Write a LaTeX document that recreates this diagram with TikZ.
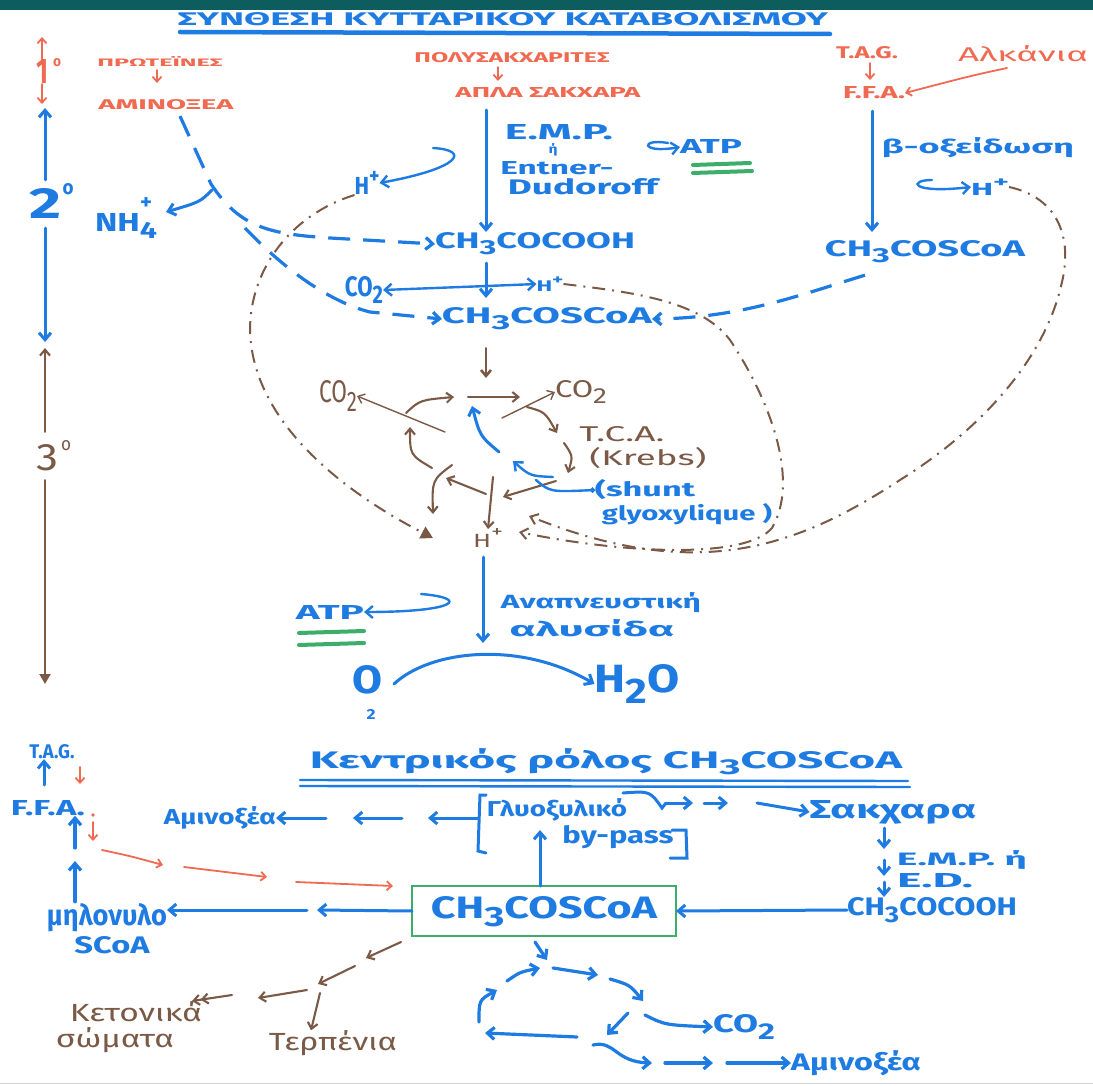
\documentclass[tikz,border=0pt]{standalone}
\usepackage{fontspec}
\setmainfont{Fira Sans}
\usepackage{graphicx}
\usetikzlibrary{arrows.meta}
\definecolor{bl}{HTML}{1E7BE2}
\definecolor{rd}{HTML}{F06A52}
\definecolor{br}{HTML}{7A5A46}
\definecolor{gr}{HTML}{3DAE6A}
\definecolor{teal}{HTML}{0D5C5E}
\newcommand{\fx}[3]{\resizebox{#1pt}{#2pt}{#3}}
\newcommand{\Sb}[1]{\raisebox{-0.5ex}{\small #1}}
\newcommand{\Sp}[1]{\raisebox{0.9ex}{\small #1}}
\begin{document}
\begin{tikzpicture}[x=1pt,y=-1pt,
  t/.style={inner sep=0pt,outer sep=0pt},
  tb/.style={t,text=bl,font=\bfseries},
  tr/.style={t,text=rd,font=\bfseries},
  tn/.style={t,text=br},
  bL/.style={draw=bl,line width=3pt,line cap=round},
  bA/.style={bL,-{Straight Barb[length=7pt,width=12pt]}},
  bd/.style={draw=bl,line width=3.2pt,dash pattern=on 22pt off 13pt,-{Straight Barb[length=7pt,width=12pt]}},
  rA/.style={draw=rd,line width=1.8pt,line cap=round,-{Straight Barb[length=5pt,width=9pt]}},
  nL/.style={draw=br,line width=2.1pt,line cap=round},
  nA/.style={nL,-{Straight Barb[length=6pt,width=10pt]}},
  dd/.style={draw=br,line width=2pt,dash pattern=on 13pt off 7pt on 2pt off 7pt,-{Straight Barb[length=7pt,width=11pt]}},
  gL/.style={draw=gr,line width=4pt,line cap=round}]
\useasboundingbox (0,0) rectangle (1093,1086);
\fill[white] (0,0) rectangle (1093,1086);
\fill[teal] (0,0) rectangle (1093,10);
\draw[gray!35,line width=1pt] (0,1083) -- (1093,1083);

% ---------- title
\node[tb] (title) at (503,19) {\fx{650}{13}{ΣΥΝΘΕΣΗ ΚΥΤΤΑΡΙΚΟΥ ΚΑΤΑΒΟΛΙΣΜΟΥ}};
\draw[bL,line width=4.5pt] (180,32) -- (830,34);

% ---------- red sources
\node[tr] (pr) at (160,62) {\fx{125}{10}{ΠΡΩΤΕΪΝΕΣ}};
\node[tr] (am) at (166,105) {\fx{135}{10}{ΑΜΙΝΟΞΕΑ}};
\node[tr] (pol) at (512,58) {\fx{195}{10}{ΠΟΛΥΣΑΚΧΑΡΙΤΕΣ}};
\node[tr] (apl) at (548,93) {\fx{185}{10}{ΑΠΛΑ ΣΑΚΧΑΡΑ}};
\node[tr] (tag) at (867,53) {\fx{62}{12}{T.A.G.}};
\node[tr] (ffa) at (874,93) {\fx{62}{12}{F.F.A.}};
\node[tr,anchor=west,font=\mdseries] (alk) at (958,54) {\fx{130}{16}{Αλκάνια}};
\draw[rA] (pr.south -| 157,0) ++(0,3) -- (157,83);
\draw[rA] (pol.south -| 498,0) ++(0,4) -- (498,81);
\draw[rA] (tag.south -| 870,0) ++(0,4) -- (870,80);
\draw[rA] (1007,68) .. controls (970,76) .. (ffa.east);

% ---------- left axis
\node[tr] (one) at (42,72) {\fx{12}{24}{1}};
\node[tr] (onec) at (57,63) {\fx{8}{8}{o}};
\draw[rA] (one.north) -- (42,37);
\draw[rA] (one.south) -- (42,104);
\node[tb] (two) at (46,203) {\fx{32}{30}{2}};
\node[tb] (twoc) at (68,189) {\fx{11}{11}{o}};
\draw[bA] (two.north -| 45,0) ++(0,-8) -- (45,108);
\draw[bA] (two.south -| 45,0) ++(0,10) -- (45,342);
\node[tn] (three) at (48,458) {\fx{22}{26}{3}};
\node[tn] (threec) at (66,446) {\fx{10}{10}{o}};
\draw[nA] (three.north -| 45,0) ++(0,-13) -- (45,348);
\draw[nL,-{Triangle[length=10pt,width=11pt]}] (three.south -| 45,0) ++(0,9) -- (45,684);

% ---------- upper middle column
\draw[bA] (apl.south -| 486,0) ++(0,12) -- (486,232);
\node[tb] (emp) at (559,132) {\fx{108}{15}{E.M.P.}};
\node[tb] (eta) at (553,150) {\fx{9}{10}{ή}};
\node[tb] (ent) at (557,168) {\fx{113}{13}{Entner-}};
\node[tb] (dud) at (583,187) {\fx{150}{16}{Dudoroff}};
\node[tb] (atp1) at (711,147) {\fx{62}{14}{ATP}};
\draw[bA,line width=2.4pt] (668,143) .. controls (640,138) and (640,154) .. (atp1.west);
\draw[gL] (693,165) -- (750,163);
\draw[gL] (693,173) -- (752,171);

\draw[bA] (ffa.south -| 872,0) ++(0,12) -- (872,232);
\node[tb] (box1) at (978,148) {\fx{192}{16}{β-οξείδωση}};
\node[tb] (hR) at (990,187) {\fx{38}{17}{H\Sp{+}}};
\draw[bA,line width=2.4pt] (932,180) .. controls (908,180) and (910,194) .. (hR.west);
\node[tb] (acR) at (925,252) {\fx{200}{16}{CH\Sb{3}COSCoA}};

\node[tb] (hL) at (367,183) {\fx{25}{24}{H\Sp{+}}};
\draw[bA,line width=2.4pt] (433,148) .. controls (470,150) and (462,168) .. (hL.east);
\node[tb] (nh) at (126,226) {\fx{62}{18}{NH\Sb{4}}};
\node[tb] (nhp) at (146,203) {\fx{12}{12}{+}};
\draw[bA] (212,190) .. controls (200,202) .. (166,212);

\node[tb] (pyr) at (535,244) {\fx{200}{16}{CH\Sb{3}COCOOH}};
\node[tb] (acM) at (547,319) {\fx{210}{16}{CH\Sb{3}COSCoA}};
\draw[bd] (am.south) ++(14,6) -- (211,184) .. controls (240,228) and (270,234) .. (330,238) -- (pyr.west);
\draw[bd] (245,228) .. controls (285,270) and (330,302) .. (370,312) -- (acM.west);
\draw[bd] (acR.south) ++(-60,12) .. controls (800,295) and (740,318) .. (acM.east);

\node[tb] (co2a) at (364,290) {\fx{38}{20}{CO\Sb{2}}};
\node[tb] (hM) at (550,284) {\fx{27}{15}{H\Sp{+}}};
\draw[bA] (pyr.south -| 486,0) ++(0,8) -- (486,298);
\draw[bA,line width=2.4pt] (487,286) -- (co2a.east);
\draw[bA,line width=2.4pt] (487,286) -- (hM.west);

% ---------- brown dash-dot loops
\node[tn] (hK) at (488,538) {\fx{30}{18}{H\Sp{+}}};
\draw[dd] (hM.east) .. controls (630,292) and (700,300) .. (730,340) .. controls (770,400) and (800,480) .. (772,528) .. controls (745,560) and (620,553) .. ([xshift=16pt,yshift=6pt]hK.east);
\draw[dd] (hR.east) .. controls (1060,198) and (1072,240) .. (1062,282) .. controls (1045,360) and (980,430) .. (900,480) .. controls (800,545) and (700,585) .. ([xshift=26pt,yshift=22pt]hK.east);
\draw[dd,-{Triangle[length=12pt,width=13pt]}] (hL.south west) .. controls (290,215) and (250,270) .. (250,330) .. controls (252,420) and (340,490) .. ([xshift=-40pt]hK.west);

% ---------- Krebs cycle
\draw[nA,line width=2.6pt] (acM.south -| 486,0) ++(0,18) -- (486,378);
\draw[nA] (468,397) -- (520,397);
\node[tn] (co2r) at (581,392) {\fx{52}{17}{CO\Sb{2}}};
\draw[nA,line width=1.4pt] (502,418) -- (co2r.west);
\draw[nA] (527,407) .. controls (545,412) .. (557,433);
\node[tn] (tca) at (622,434) {\fx{85}{15}{T.C.A.}};
\node[tn] (krebs) at (648,458) {\fx{117}{18}{(Krebs)}};
\draw[nA] (564,443) .. controls (573,456) .. (568,473);
\draw[nA] (556,481) .. controls (530,488) .. (503,497);
\draw[nA] (493,477) -- (hK.north);
\draw[nA] (486,494) -- (446,478);
\draw[nA] (452,465) .. controls (432,480) .. (433,514);
\draw[nA] (432,468) .. controls (410,455) .. (410,427);
\draw[nA] (406,413) .. controls (420,400) .. (454,397);
\node[tn] (co2l) at (338,396) {\fx{38}{22}{CO\Sb{2}}};
\draw[nA,line width=1.4pt] (445,432) -- (co2l.east);
\draw[bA] (499,452) .. controls (480,436) .. (472,406);
\draw[bA,line width=2.4pt] (553,477) .. controls (530,476) .. (513,461);
\node[tb] (sh1) at (645,490) {\fx{100}{17}{(shunt}};
\node[tb] (sh2) at (687,514) {\fx{170}{17}{glyoxylique )}};
\draw[bL,line width=2.4pt,-{Circle[length=5pt]}] (536,480) .. controls (550,492) .. (sh1.west);

% ---------- respiratory chain
\draw[bA] (hK.south) ++(-5,10) -- (483,643);
\node[tb] (ana) at (601,603) {\fx{200}{16}{Αναπνευστική}};
\node[tb] (aly) at (592,628) {\fx{165}{17}{αλυσίδα}};
\node[tb] (atp2) at (330,612) {\fx{68}{14}{ATP}};
\draw[bA,line width=2.4pt] (421,594) .. controls (470,598) and (458,612) .. (atp2.east);
\draw[gL] (299,633) -- (364,631);
\draw[gL] (299,645) -- (364,643);
\node[tb] (o2) at (367,680) {\fx{30}{28}{O}};
\node[tb] (o2s) at (371,714) {\fx{9}{10}{2}};
\node[tb] (h2o) at (637,684) {\fx{85}{28}{H\Sb{2}O}};
\draw[bA] (o2.east) ++(12,4) .. controls (430,650) and (520,640) .. (h2o.west);

% ---------- bottom section
\node[tb] (title2) at (606,762) {\fx{592}{20}{Κεντρικός ρόλος CH\Sb{3}COSCoA}};
\draw[bL,line width=2.4pt] (300,780) -- (908,781);
\draw[bL,line width=2.4pt] (300,786) -- (910,787);

\node[tb] (tag2) at (52,752) {\fx{45}{14}{T.A.G.}};
\draw[bA,line width=3pt] (44,785) -- (tag2.south -| 44,0);
\draw[rA] (80,767) -- (80,784);
\node[tb] (ffa2) at (48,808) {\fx{74}{15}{F.F.A.}};
\fill[rd] (93,815) circle (1.8pt);
\draw[rA] (93,822) -- (93,841);
\draw[bA,line width=3.2pt] (75,848) -- (ffa2.south -| 75,0);
\node[tb] (mal) at (107,918) {\fx{120}{22}{μηλονυλο}};
\node[tb] (scoa) at (112,945) {\fx{75}{17}{SCoA}};
\draw[bA,line width=3.2pt] (mal.north -| 75,0) ++(0,-2) -- (75,861);

\node[t,draw=gr,line width=2.8pt,minimum width=264pt,minimum height=50pt] (box) at (544,911) {};
\node[tb] (boxt) at (544,912) {\fx{226}{22}{CH\Sb{3}COSCoA}};
\draw[rA] (102,850) .. controls (130,856) .. (163,865);
\draw[rA] (184,867) -- (267,877);
\draw[rA] (296,882) -- (393,886);
\draw[bA] (box.west) -- (317,910);
\draw[bA] (307,910) -- (mal.east |- 0,910);
\node[tb] (pyr2) at (932,910) {\fx{170}{18}{CH\Sb{3}COCOOH}};
\draw[bA] (pyr2.west) -- (box.east);

\draw[bA] (box.north -| 540,0) -- (540,830);
\draw[bL] (486,795) -- (480,795) -- (478,851) -- (486,853);
\node[tb] (gly) at (557,810) {\fx{140}{18}{Γλυοξυλικό}};
\node[tb] (byp) at (618,837) {\fx{111}{18}{by-pass}};
\draw[bL] (623,793) .. controls (650,791) .. (662,808) -- (666,803);
\draw[bL] (672,830) -- (686,830) -- (687,858) -- (670,858);
\node[tb] (amb) at (220,818) {\fx{112}{18}{Αμινοξέα}};
\draw[bA] (478,818) -- (428,818);
\draw[bA] (402,818) -- (353,818);
\draw[bA] (326,818) -- (amb.east);
\draw[bA] (666,803) -- (693,803);
\draw[bA] (704,803) -- (728,803);
\node[tb] (sak) at (893,812) {\fx{167}{18}{Σακχαρα}};
\draw[bA] (757,803) -- (sak.west);
\draw[bA] (884,828) -- (884,849);
\draw[bA] (884,860) -- (884,876);
\draw[bA] (884,882) -- (884,897);
\node[tb] (emp2) at (962,860) {\fx{130}{15}{E.M.P. ή}};
\node[tb] (ed) at (935,881) {\fx{76}{14}{E.D.}};

% brown branches
\node[tn] (ket) at (136,1012) {\fx{132}{20}{Κετονικά}};
\node[tn] (som) at (115,1040) {\fx{118}{20}{σώματα}};
\node[tn] (ter) at (333,1043) {\fx{128}{20}{Τερπένια}};
\draw[nA] (401,942) -- (366,958);
\draw[nA] (355,966) -- (318,984);
\draw[nA] (307,990) -- (258,998);
\draw[nA,-{Straight Barb[length=6pt,width=10pt]Straight Barb[length=6pt,width=10pt]}] (232,995) -- (192,1001);
\draw[nA] (320,993) -- (ter.north -| 311,0);

% blue bottom cycle
\draw[bA,line width=3.2pt] (box.south -| 535,0) ++(0,6) -- (547,960);
\draw[bA,line width=3.2pt] (553,968) -- (598,975);
\draw[bA,line width=3.2pt] (610,979) .. controls (630,985) .. (643,1001);
\draw[bA,line width=3.2pt] (628,1013) -- (607,1035);
\draw[bA,line width=3.2pt] (577,1037) -- (485,1033);
\draw[bA,line width=3.2pt] (479,1022) .. controls (479,1000) .. (497,990);
\draw[bA,line width=3.2pt] (507,981) .. controls (520,972) .. (540,968);
\node[tb] (co2b) at (744,1027) {\fx{62}{18}{CO\Sb{2}}};
\draw[bA,line width=3.2pt] (645,1015) .. controls (665,1025) .. (co2b.west);
\draw[bA,line width=3.2pt] (593,1045) .. controls (615,1040) and (615,1062) .. (652,1063);
\draw[bA,line width=3.2pt] (665,1063) -- (713,1063);
\node[tb] (amc) at (856,1063) {\fx{130}{20}{Αμινοξέα}};
\draw[bA,line width=3.2pt] (727,1063) -- (amc.west);
\end{tikzpicture}
\end{document}
